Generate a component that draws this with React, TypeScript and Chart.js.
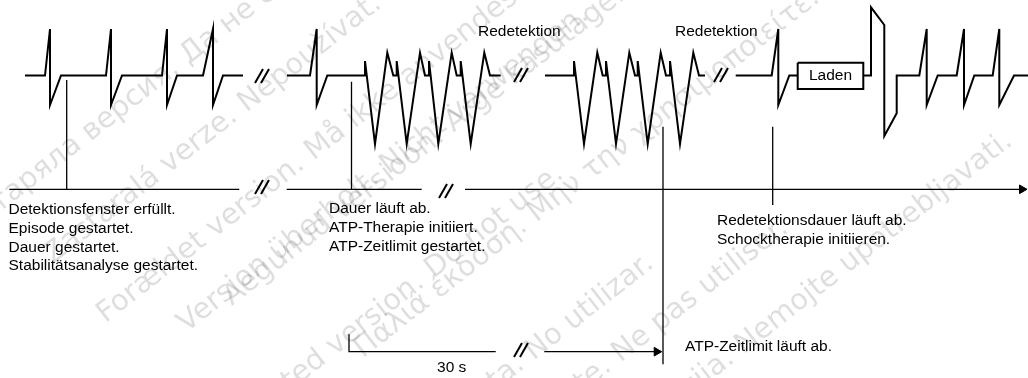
import React, { useEffect, useRef } from "react";
import { Chart, registerables } from "chart.js";

Chart.register(...registerables);

const W = 1028;
const H = 378;

// ECG trace segments (diagram units = pixels)
const seg1X = [25, 45, 50, 50, 61, 106, 111, 111, 122, 162, 167, 167, 177, 203, 213, 213, 223, 243];
const seg1Y = [75.5, 75.5, 29, 105, 75.5, 75.5, 29, 105, 75.5, 75.5, 29, 105, 75.5, 75.5, 29, 105, 75.5, 75.5];

const seg2X = [287, 310, 316.7, 316.7, 327.3, 365, 365, 375, 387.3, 393.3, 396.7, 396.7, 406.7, 420, 425, 429, 429, 438.3, 451.7, 456.7, 460.7, 460.7, 470.7, 484.3, 490, 500.7];
const seg2Y = [75.5, 75.5, 29, 105, 75.5, 75.5, 61, 144, 52.7, 75.5, 75.5, 61, 144, 52.7, 75.5, 75.5, 61, 144, 52.7, 75.5, 75.5, 61, 144, 52.7, 75.5, 75.5];

const seg3X = [545, 574, 574, 584, 597.3, 602.7, 606, 606, 616, 629.3, 635, 637.7, 637.7, 647.7, 660.7, 666, 670, 670, 680, 693.3, 699, 705];
const seg3Y = [75.5, 75.5, 61, 144, 52.7, 75.5, 75.5, 61, 144, 52.7, 75.5, 75.5, 61, 144, 52.7, 75.5, 75.5, 61, 144, 52.7, 75.5, 75.5];

const seg4X = [735.7, 771.7, 778.3, 778.3, 789.3, 797.7];
const seg4Y = [75.5, 75.5, 29, 105, 75.5, 75.5];

const seg5X = [863.3, 871, 871, 884.3, 884.3, 896.7, 896.7, 919.3, 926.7, 926.7, 937.7, 956.7, 964, 964, 974.3, 992.7, 999.3, 999.3, 1014, 1030];
const seg5Y = [75.5, 75.5, 7.3, 25, 136, 113.3, 75.5, 75.5, 29, 105, 75.5, 75.5, 29, 105, 75.5, 75.5, 29, 105, 75.5, 75.5];

// "Laden" box
const boxX = [797.7, 863.3, 863.3, 797.7, 797.7];
const boxY = [62.7, 62.7, 89, 89, 62.7];

// Time axis pieces
const axisStartX = [9.3, 286.7, 465];
const axisEndX = [239.3, 421.7, 1022];
const axisY = 189.3;

// Event markers (vertical lines)
const markerX = [66.7, 351.5, 663, 772.7];
const markerTop = [80, 81.7, 126.7, 126.7];
const markerBottom = [189.3, 189.3, 364.3, 205];

// ATP time limit bracket
const bracketX = [349, 349, 495.7];
const bracketY = [334.3, 351.7, 351.7];
const bracketArrowX = [544.3, 656.7];
const bracketArrowY = [351.7, 351.7];

// Break marks "//"
const breakX = [262, 521, 721, 262, 446, 521];
const breakY = [76, 75, 75, 187, 191, 350];

// Annotation texts
const labelText = [
  "Redetektion",
  "Redetektion",
  "Detektionsfenster erfüllt.",
  "Episode gestartet.",
  "Dauer gestartet.",
  "Stabilitätsanalyse gestartet.",
  "Dauer läuft ab.",
  "ATP-Therapie initiiert.",
  "ATP-Zeitlimit gestartet.",
  "Redetektionsdauer läuft ab.",
  "Schocktherapie initiieren.",
  "ATP-Zeitlimit läuft ab.",
];
const labelX = [478, 675, 8.5, 8.5, 8.5, 8.5, 329, 329, 329, 717, 717, 685];
const labelY = [32, 32, 210, 228.7, 247.3, 266, 209, 228, 247, 221, 239.5, 347];
const ladenText = "Laden";
const ladenX = 830.5;
const ladenY = 76;
const scaleText = "30 s";
const scaleX = 451.7;
const scaleY = 368;

// Watermark ("outdated version" notices)
const wmFirst = [
  "Остаряла версия.",
  "Zastaralá verze.",
  "Forældet version.",
  "Version überholt.",
  "Aegunud versioon.",
  "Παλιά έκδοση.",
  "Outdated version.",
  "Versión obsoleta.",
  "Version obsolète.",
  "Zastarjela verzija.",
];
const wmSecond = [
  "Да не се използва.",
  "Nepoužívat.",
  "Må ikke anvendes.",
  "Nicht verwenden.",
  "Ärge kasutage.",
  "Μην την χρησιμοποιείτε.",
  "Do not use.",
  "No utilizar.",
  "Ne pas utiliser.",
  "Nemojte upotrebljavati.",
];
const wmX = [180, 238, 305, 380, 445, 528, 425, 525, 612, 735];
const wmY = [62, 110, 158, 172, 130, 220, 276, 358, 360, 352];

const FONT = "'Liberation Sans', Arial, Helvetica, sans-serif";

function line(xs: number[], ys: number[], width: number, extra: any = {}) {
  return {
    data: xs.map((x, i) => ({ x, y: ys[i] })),
    showLine: true,
    borderColor: "#000",
    backgroundColor: "#000",
    borderWidth: width,
    pointRadius: 0,
    tension: 0,
    clip: false,
    borderJoinStyle: "miter",
    ...extra,
  };
}

const textPlugin = {
  id: "annotTexts",
  beforeDatasetsDraw(chart: any) {
    const { ctx } = chart;
    const sx = chart.scales.x;
    const sy = chart.scales.y;
    const a = (38 * Math.PI) / 180;
    ctx.save();
    ctx.font = `29px 'DejaVu Sans', sans-serif`;
    ctx.fillStyle = "rgba(0,0,0,0.13)";
    ctx.textBaseline = "middle";
    for (let i = 0; i < wmFirst.length; i++) {
      ctx.save();
      ctx.translate(sx.getPixelForValue(wmX[i]), sy.getPixelForValue(wmY[i]));
      ctx.rotate(-a);
      ctx.textAlign = "right";
      ctx.fillText(wmFirst[i], -5, 0);
      ctx.textAlign = "left";
      ctx.fillText(wmSecond[i], 5, 0);
      ctx.restore();
    }
    ctx.restore();
  },
  afterDatasetsDraw(chart: any) {
    const { ctx } = chart;
    const sx = chart.scales.x;
    const sy = chart.scales.y;
    ctx.save();
    ctx.fillStyle = "#000";
    ctx.font = `15.5px ${FONT}`;
    ctx.textBaseline = "middle";
    ctx.textAlign = "left";
    labelText.forEach((t, i) => {
      ctx.fillText(t, sx.getPixelForValue(labelX[i]), sy.getPixelForValue(labelY[i]));
    });
    ctx.textAlign = "center";
    ctx.fillText(ladenText, sx.getPixelForValue(ladenX), sy.getPixelForValue(ladenY));
    ctx.fillText(scaleText, sx.getPixelForValue(scaleX), sy.getPixelForValue(scaleY));
    ctx.restore();
  },
};

export default function App() {
  const ref = useRef<HTMLCanvasElement | null>(null);

  useEffect(() => {
    if (!ref.current) return;
    const datasets: any[] = [];
    [
      [seg1X, seg1Y],
      [seg2X, seg2Y],
      [seg3X, seg3Y],
      [seg4X, seg4Y],
      [seg5X, seg5Y],
    ].forEach(([xs, ys]) => datasets.push(line(xs, ys, 2)));
    datasets.push(line(boxX, boxY, 2));
    axisStartX.forEach((s, i) => datasets.push(line([s, axisEndX[i]], [axisY, axisY], 1.3)));
    markerX.forEach((mx, i) => datasets.push(line([mx, mx], [markerTop[i], markerBottom[i]], 1.3)));
    datasets.push(line(bracketX, bracketY, 1.3));
    datasets.push(line(bracketArrowX, bracketArrowY, 1.3));
    // arrow heads
    datasets.push({
      data: [
        { x: bracketArrowX[1], y: bracketArrowY[1] },
        { x: axisEndX[2], y: axisY },
      ],
      showLine: false,
      pointStyle: "triangle",
      rotation: 90,
      pointRadius: 5,
      pointBorderWidth: 1,
      pointBackgroundColor: "#000",
      pointBorderColor: "#000",
      clip: false,
    });
    // break marks
    breakX.forEach((bx, i) => {
      const by = breakY[i];
      [-3, 3].forEach((off) => {
        datasets.push(line([bx + off - 4, bx + off + 4], [by + 7, by - 7], 2, { borderCapStyle: "butt" }));
      });
    });

    const chart = new Chart(ref.current, {
      type: "scatter",
      data: { datasets },
      options: {
        animation: false,
        responsive: false,
        maintainAspectRatio: false,
        layout: { padding: 0, autoPadding: false },
        plugins: { legend: { display: false }, tooltip: { enabled: false } },
        events: [],
        scales: {
          x: { type: "linear", min: 0, max: W, display: false },
          y: { type: "linear", min: 0, max: H, reverse: true, display: false },
        },
      },
      plugins: [textPlugin],
    } as any);
    return () => chart.destroy();
  }, []);

  return (
    <div style={{ position: "fixed", left: 0, top: 0, width: W, height: H, background: "#fff" }}>
      <canvas ref={ref} width={W} height={H} style={{ display: "block", width: W, height: H }} />
    </div>
  );
}
